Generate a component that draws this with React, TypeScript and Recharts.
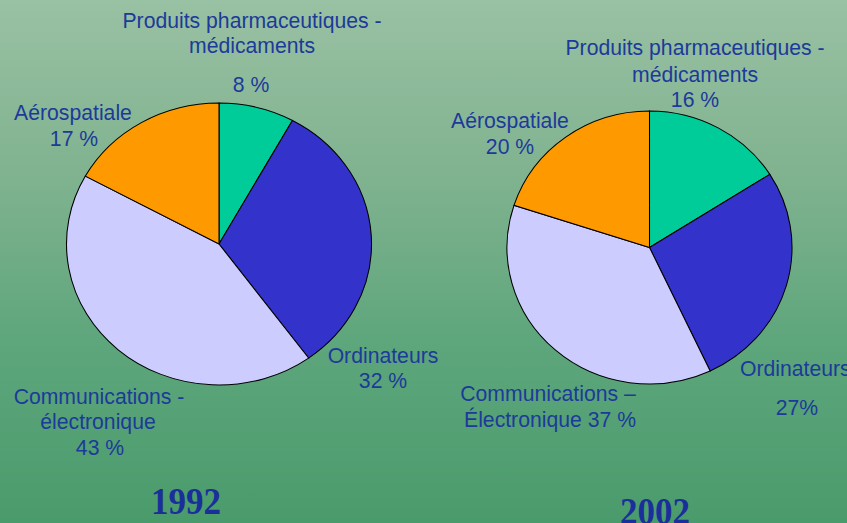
import { PieChart, Pie, Cell } from "recharts";

// slice order, clockwise from 12 o'clock
const sectors = ["Produits pharmaceutiques - médicaments", "Ordinateurs", "Communications - électronique", "Aérospatiale"];
const shares1992 = [8, 32, 43, 17];
const shares2002 = [16, 27, 37, 20];
const sliceColors = ["#00cc99", "#3333cc", "#ccccff", "#ff9900"];

const years = ["1992", "2002"];

// label lines as they appear on the slide
const labels1992 = [
  ["Produits pharmaceutiques -", "médicaments", "8 %"],
  ["Ordinateurs", "32 %"],
  ["Communications -", "électronique", "43 %"],
  ["Aérospatiale", "17 %"],
];
const labels2002 = [
  ["Produits pharmaceutiques -", "médicaments", "16 %"],
  ["Ordinateurs", "27%"],
  ["Communications –", "Électronique 37 %"],
  ["Aérospatiale", "20 %"],
];

const W = 847;
const H = 523;
const textBlue = "#1c3a9a";
const labelFont = "'Liberation Sans', Arial, sans-serif";

type PieBoxProps = { values: number[]; cx: number; cy: number; ry: number; rx: number };

function EllipsePie({ values, cx, cy, ry, rx }: PieBoxProps) {
  const data = sectors.map((name, i) => ({ name, value: values[i] }));
  const size = ry * 2 + 4;
  return (
    <div
      style={{
        position: "absolute",
        left: cx - size / 2,
        top: cy - size / 2,
        width: size,
        height: size,
        transform: `scaleX(${rx / ry})`,
        transformOrigin: "50% 50%",
      }}
    >
      <PieChart width={size} height={size} margin={{ top: 0, right: 0, bottom: 0, left: 0 }}>
        <Pie data={data} dataKey="value" nameKey="name" cx="50%" cy="50%" outerRadius={ry}
          startAngle={90} endAngle={-270} stroke="#000" strokeWidth={1} isAnimationActive={false}>
          {data.map((d, i) => <Cell key={d.name} fill={sliceColors[i]} />)}
        </Pie>
      </PieChart>
    </div>
  );
}

type Anchor = "middle" | "start";
// per line: [x, baseline, anchor]
const place1992: [number, number, Anchor][][] = [
  [[252, 28, "middle"], [252, 53, "middle"], [251, 92, "middle"]],
  [[383, 363, "middle"], [383, 388, "middle"]],
  [[99, 404, "middle"], [98, 429, "middle"], [100, 455, "middle"]],
  [[73, 120, "middle"], [74, 146, "middle"]],
];
const place2002: [number, number, Anchor][][] = [
  [[695, 55, "middle"], [695, 82, "middle"], [695, 107, "middle"]],
  [[740, 376, "start"], [797, 415, "middle"]],
  [[548, 401, "middle"], [550, 427, "middle"]],
  [[510, 128, "middle"], [510, 154, "middle"]],
];

function LabelBlock({ lines, place }: { lines: string[]; place: [number, number, Anchor][] }) {
  return (
    <>
      {lines.map((t, i) => (
        <text key={i} x={place[i][0]} y={place[i][1]} textAnchor={place[i][2]}
          fontFamily={labelFont} fontSize={21.2} fill={textBlue}>
          {t}
        </text>
      ))}
    </>
  );
}

export default function App() {
  return (
    <div
      style={{
        position: "fixed",
        left: 0,
        top: 0,
        width: W,
        height: H,
        overflow: "hidden",
        background: "linear-gradient(to bottom, #99c1a3 0%, #7fb28f 35%, #5ea67c 65%, #4a9b6c 100%)",
      }}
    >
      <EllipsePie values={shares1992} cx={218.5} cy={244} ry={141} rx={152.5} />
      <EllipsePie values={shares2002} cx={649.5} cy={247.5} ry={136.5} rx={142.5} />
      <svg width={W} height={H} style={{ position: "absolute", left: 0, top: 0, pointerEvents: "none" }}>
        {labels1992.map((lines, i) => (
          <LabelBlock key={"a" + i} lines={lines} place={place1992[i]} />
        ))}
        {labels2002.map((lines, i) => (
          <LabelBlock key={"b" + i} lines={lines} place={place2002[i]} />
        ))}
        <text x={186} y={514} textAnchor="middle" fontFamily="'Liberation Serif', 'Times New Roman', serif"
          fontWeight="bold" fontSize={38} fill="#1a2f9a" textLength={70} lengthAdjust="spacingAndGlyphs">
          {years[0]}
        </text>
        <text x={655} y={524} textAnchor="middle" fontFamily="'Liberation Serif', 'Times New Roman', serif"
          fontWeight="bold" fontSize={38} fill="#1a2f9a" textLength={70} lengthAdjust="spacingAndGlyphs">
          {years[1]}
        </text>
      </svg>
    </div>
  );
}
